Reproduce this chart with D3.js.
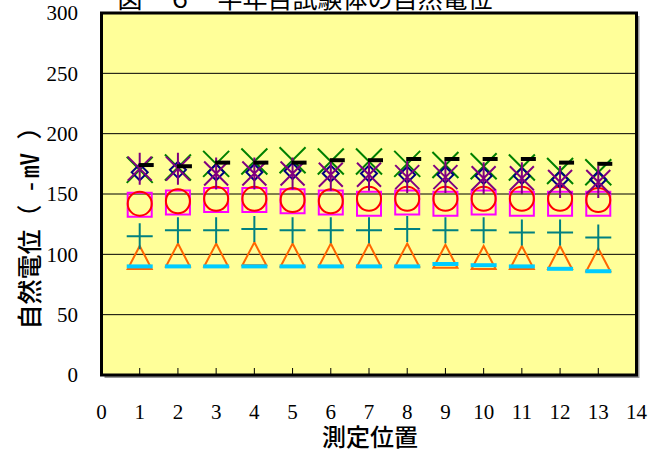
<!DOCTYPE html>
<html lang="ja">
<head>
<meta charset="UTF-8">
<title>自然電位</title>
<script src="https://d3js.org/d3.v7.min.js"></script>
<style>
  body { margin: 0; background: #fff; }
  .num { font-family: "Liberation Serif", "Times New Roman", serif; font-size: 21px; }
  .jp { font-family: "Noto Sans CJK JP", sans-serif; }
</style>
</head>
<body>
<div id="chart"></div>
<script>
// measurement positions 1..13
var positions = [1, 2, 3, 4, 5, 6, 7, 8, 9, 10, 11, 12, 13];

// series values (-mV)
var seriesGreenX   = [170, 172, 175, 177, 178, 177, 177, 175, 174, 173, 172, 169, 168];
var seriesPurple   = [171, 171, 167, 167, 167, 166, 166, 164, 164, 163, 163, 160, 160];
var seriesNavy     = [168, 170, 168, 168, 169, 167, 167, 166, 166, 165, 165, 162, 162];
var seriesMagenta  = [141, 143, 145, 145, 144, 143, 142, 143, 142, 143, 142, 142, 142];
var seriesRed      = [142, 144, 146, 146, 145, 144, 146, 146, 146, 146, 146, 146, 145];
var seriesTeal     = [115, 120, 120, 121, 120, 120, 120, 121, 120, 120, 118, 118, 114];
var seriesOrange   = [97, 99, 99, 100, 99, 99, 99, 99, 98, 97, 97, 97, 95];
var seriesCyan     = [90, 90, 90, 90, 90, 90, 90, 90, 92, 91, 90, 88, 86];
var seriesBlack    = [174, 173, 176, 176, 176, 178, 178, 179, 179, 179, 179, 176, 175];

var yTicks = [0, 50, 100, 150, 200, 250, 300];
var xTicks = d3.range(0, 15);

var width = 666, height = 452;
var plotL = 101.5, plotR = 636.5, plotT = 13, plotB = 375;

var svg = d3.select("#chart").append("svg")
    .attr("width", width)
    .attr("height", height);

var x = d3.scaleLinear().domain([0, 14]).range([plotL, plotR]);
var y = d3.scaleLinear().domain([0, 300]).range([plotB, plotT]);

// title (clipped at the top edge)
svg.append("text")
    .attr("class", "jp")
    .attr("x", 305).attr("y", 8)
    .attr("text-anchor", "middle")
    .style("font-size", "25px")
    .text("図－６　半年目試験体の自然電位");

// shadow + plot area
svg.append("rect")
    .attr("x", plotL + 3).attr("y", plotT + 3)
    .attr("width", plotR - plotL).attr("height", plotB - plotT)
    .attr("fill", "#999");
svg.append("rect")
    .attr("x", plotL).attr("y", plotT)
    .attr("width", plotR - plotL).attr("height", plotB - plotT)
    .attr("fill", "#ffff99");

// gridlines
svg.selectAll(".grid")
    .data(yTicks.filter(function (d) { return d > 0 && d < 300; }))
    .enter().append("line")
    .attr("x1", plotL).attr("x2", plotR)
    .attr("y1", function (d) { return y(d); })
    .attr("y2", function (d) { return y(d); })
    .attr("stroke", "#000").attr("stroke-width", 1);

// x ticks (inside)
svg.selectAll(".xtick")
    .data(xTicks.slice(1, 14))
    .enter().append("line")
    .attr("x1", function (d) { return x(d); })
    .attr("x2", function (d) { return x(d); })
    .attr("y1", plotB).attr("y2", plotB - 7)
    .attr("stroke", "#000").attr("stroke-width", 1);

// y tick labels
svg.selectAll(".ylab")
    .data(yTicks)
    .enter().append("text")
    .attr("class", "num")
    .attr("x", 78)
    .attr("y", function (d) { return y(d); })
    .attr("dy", "0.35em")
    .attr("text-anchor", "end")
    .text(function (d) { return d; });

// x tick labels
svg.selectAll(".xlab")
    .data(xTicks)
    .enter().append("text")
    .attr("class", "num")
    .attr("x", function (d) { return x(d); })
    .attr("y", 412)
    .attr("dy", "0.35em")
    .attr("text-anchor", "middle")
    .text(function (d) { return d; });

// axis titles
svg.append("text")
    .attr("class", "jp")
    .attr("x", 370).attr("y", 438)
    .attr("dy", "0.35em")
    .attr("text-anchor", "middle")
    .style("font-weight", "500")
    .style("font-size", "24px")
    .text("測定位置");

var yTitle = svg.append("text")
    .attr("class", "jp")
    .attr("transform", "translate(30,220) rotate(-90)")
    .attr("dy", "0.35em")
    .attr("text-anchor", "middle")
    .style("font-weight", "500")
    .style("font-size", "25px");
yTitle.append("tspan").text("自然電位");
yTitle.append("tspan").style("letter-spacing", "4px").text("（ -㎷ ）");

// marker drawing
var marks = svg.append("g");

function pts(values) {
    return positions.map(function (p, i) { return { x: x(p), y: y(values[i]) }; });
}

function drawPath(values, color, sw, pathFn) {
    marks.append("g").selectAll("path")
        .data(pts(values))
        .enter().append("path")
        .attr("d", pathFn)
        .attr("fill", "none")
        .attr("stroke", color)
        .attr("stroke-width", sw);
}

var xMark = function (d) {
    var s = 13;
    return "M" + (d.x - s) + "," + (d.y - s) + "L" + (d.x + s) + "," + (d.y + s) +
        "M" + (d.x - s) + "," + (d.y + s) + "L" + (d.x + s) + "," + (d.y - s);
};
var starMark = function (d) {
    var s = 12;
    return "M" + (d.x - s) + "," + (d.y - s) + "L" + (d.x + s) + "," + (d.y + s) +
        "M" + (d.x - s) + "," + (d.y + s) + "L" + (d.x + s) + "," + (d.y - s) +
        "M" + d.x + "," + (d.y - 16) + "L" + d.x + "," + (d.y + 16);
};
var diamondMark = function (d) {
    var s = 8;
    return "M" + d.x + "," + (d.y - s) + "L" + (d.x + s) + "," + d.y +
        "L" + d.x + "," + (d.y + s) + "L" + (d.x - s) + "," + d.y + "Z";
};
var squareMark = function (d) {
    var s = 12;
    return "M" + (d.x - s) + "," + (d.y - s) + "h" + (2 * s) + "v" + (2 * s) + "h" + (-2 * s) + "Z";
};
var circleMark = function (d) {
    var r = 12;
    return "M" + (d.x - r) + "," + d.y + "a" + r + "," + r + " 0 1,0 " + (2 * r) + ",0" +
        "a" + r + "," + r + " 0 1,0 " + (-2 * r) + ",0";
};
var plusMark = function (d) {
    return "M" + (d.x - 13) + "," + d.y + "L" + (d.x + 13) + "," + d.y +
        "M" + d.x + "," + (d.y - 13) + "L" + d.x + "," + (d.y + 13);
};
var triMark = function (d) {
    return "M" + d.x + "," + (d.y - 12) + "L" + (d.x + 12) + "," + (d.y + 11) +
        "L" + (d.x - 12) + "," + (d.y + 11) + "Z";
};
var wideDash = function (d) {
    return "M" + (d.x - 13) + "," + d.y + "L" + (d.x + 13) + "," + d.y;
};
var shortDash = function (d) {
    return "M" + (d.x - 1) + "," + d.y + "L" + (d.x + 14) + "," + d.y;
};

drawPath(seriesOrange, "#ff6600", 2, triMark);
drawPath(seriesCyan, "#00ccff", 4, wideDash);
drawPath(seriesTeal, "#008080", 2, plusMark);
drawPath(seriesMagenta, "#ff00ff", 2, squareMark);
drawPath(seriesRed, "#ff0000", 2, circleMark);
drawPath(seriesGreenX, "#008000", 2, xMark);
drawPath(seriesNavy, "#000080", 2, diamondMark);
drawPath(seriesPurple, "#800080", 2, starMark);
drawPath(seriesBlack, "#000000", 4, shortDash);

// frame
svg.append("rect")
    .attr("x", plotL).attr("y", plotT)
    .attr("width", plotR - plotL).attr("height", plotB - plotT)
    .attr("fill", "none")
    .attr("stroke", "#000").attr("stroke-width", 3);
</script>
</body>
</html>
